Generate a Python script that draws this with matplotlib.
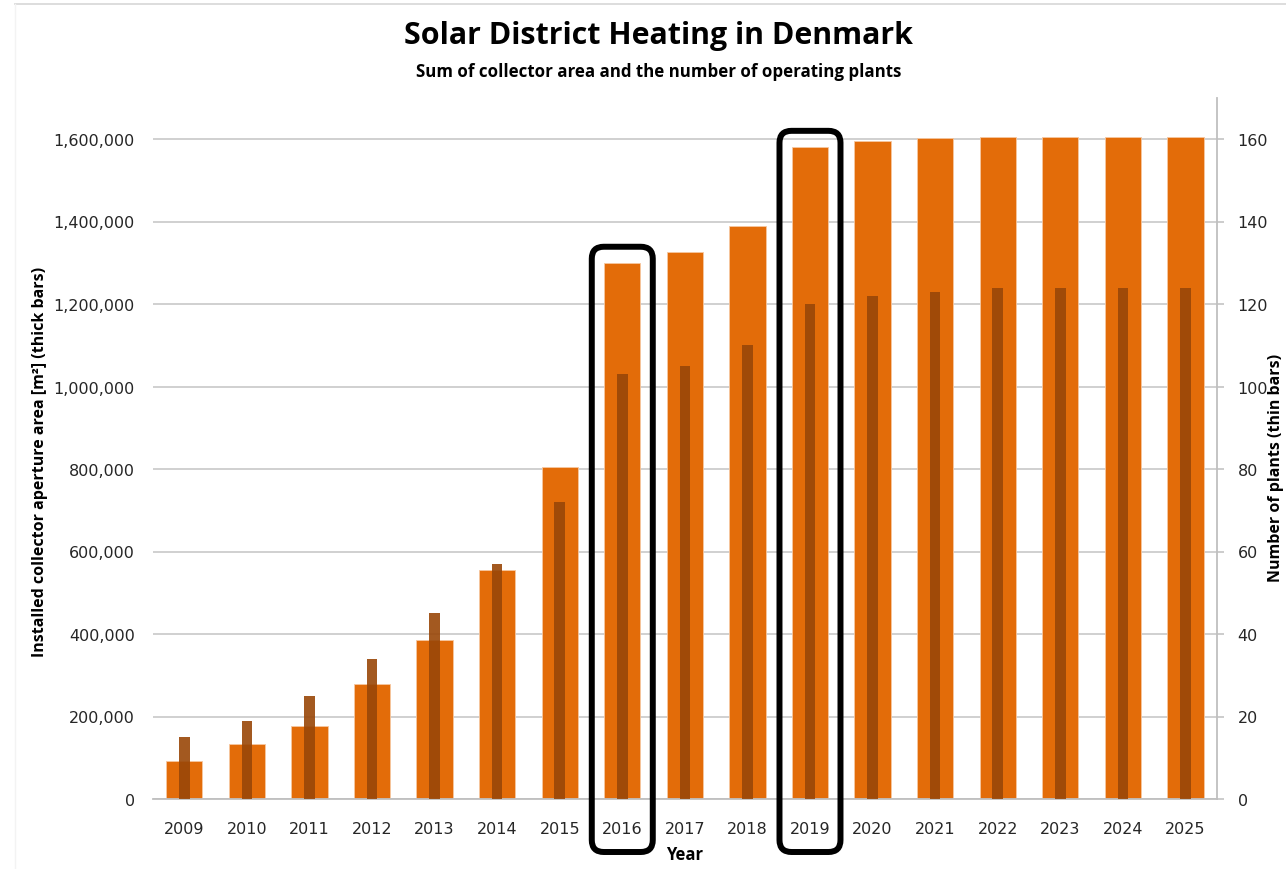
import matplotlib
matplotlib.use("Agg")
import matplotlib.pyplot as plt
from matplotlib.patches import FancyBboxPatch
from matplotlib.transforms import IdentityTransform
from matplotlib.lines import Line2D
from matplotlib.ticker import FuncFormatter

# ---------------- data ----------------
years = [2009, 2010, 2011, 2012, 2013, 2014, 2015, 2016, 2017,
         2018, 2019, 2020, 2021, 2022, 2023, 2024, 2025]
collector_area_m2 = [92000, 133000, 177000, 279000, 385000, 555000, 805000, 1300000,
                     1326000, 1390000, 1581000, 1594000, 1602000, 1604000, 1604000,
                     1606000, 1606000]
operating_plants = [15, 19, 25, 34, 45, 57, 72, 103, 105, 110, 120, 122, 123, 124,
                    124, 124, 124]
highlight_years = [2016, 2019]
left_ticks = [0, 200000, 400000, 600000, 800000, 1000000, 1200000, 1400000, 1600000]
right_ticks = [0, 20, 40, 60, 80, 100, 120, 140, 160]

title = "Solar District Heating in Denmark"
subtitle = "Sum of collector area and the number of operating plants"
left_label = "Installed collector aperture area [m²] (thick bars)"
right_label = "Number of plants (thin bars)"
x_label = "Year"

# ---------------- style ----------------
W, H, DPI = 1286, 870, 100
THICK_COLOR = "#E36C09"
THIN_COLOR = "#994708"
GRID_COLOR = "#C8C8C8"
AXIS_COLOR = "#BFBFBF"
TEXT_COLOR = "#262626"
HEAD_FONT = "Open Sans"

fig = plt.figure(figsize=(W / DPI, H / DPI), dpi=DPI)
fig.patch.set_facecolor("white")

ax_left, ax_right_px = 153, 1216.7
ax_top_px, ax_bottom_px = 98.75, 800
ax = fig.add_axes([ax_left / W, 1 - ax_bottom_px / H,
                   (ax_right_px - ax_left) / W, (ax_bottom_px - ax_top_px) / H])
ax2 = ax.twinx()

x = list(range(len(years)))
ax.bar(x, collector_area_m2, width=0.58, color=THICK_COLOR,
       edgecolor="#F6C7A0", linewidth=0.6, zorder=2)
ax2.bar(x, operating_plants, width=0.17, color=THIN_COLOR, alpha=0.9,
        linewidth=0, zorder=3)

ax.set_xlim(-0.5, len(years) - 0.5)
ax.set_ylim(0, 1700000)
ax2.set_ylim(0, 170)

ax.set_yticks(left_ticks)
ax.yaxis.set_major_formatter(FuncFormatter(lambda v, p: f"{int(v):,}"))
ax2.set_yticks(right_ticks)

ax.set_xticks(x)
ax.set_xticklabels([str(y) for y in years])

ax.grid(axis="y", color=GRID_COLOR, linewidth=1.2, zorder=0)
ax.set_axisbelow(True)

for a in (ax, ax2):
    for s in ("top", "left"):
        a.spines[s].set_visible(False)
ax.spines["right"].set_visible(False)
ax2.spines["bottom"].set_visible(False)
ax.spines["bottom"].set_color(AXIS_COLOR)
ax.spines["bottom"].set_linewidth(1.3)
ax2.spines["right"].set_color(AXIS_COLOR)
ax2.spines["right"].set_linewidth(1.3)

ax.tick_params(axis="y", length=0, pad=13, labelsize=11.5, labelcolor=TEXT_COLOR)
ax.tick_params(axis="x", length=0, pad=16, labelsize=11.5, labelcolor=TEXT_COLOR)
ax2.tick_params(axis="y", length=5, width=1.1, color=AXIS_COLOR, pad=10,
                labelsize=11.5, labelcolor=TEXT_COLOR)

# ---------------- text ----------------
fig.text(658.5 / W, 1 - 36 / H, title, ha="center", va="center",
         fontsize=21.9, fontweight="bold", family=HEAD_FONT, color="black")
fig.text(659 / W, 1 - 72 / H, subtitle, ha="center", va="center",
         fontsize=12.2, fontweight="bold", family=HEAD_FONT, color="black")
fig.text(40 / W, 1 - 462 / H, left_label, rotation=90, ha="center", va="center",
         fontsize=11.5, fontweight="bold", family=HEAD_FONT, color="black")
fig.text(1268 / W, 1 - 468 / H, right_label, rotation=90, ha="left", va="center",
         fontsize=11.5, fontweight="bold", family=HEAD_FONT, color="black")
fig.text((ax_left + ax_right_px) / 2 / W, 1 - 855 / H, x_label, ha="center",
         va="center", fontsize=12, fontweight="bold", family=HEAD_FONT, color="black")

# ---------------- highlight boxes ----------------
fig.canvas.draw()
for yr in highlight_years:
    i = years.index(yr)
    xc, ytop = ax.transData.transform((i, collector_area_m2[i]))
    _, y0 = ax.transData.transform((i, 0))
    box_w = 61
    top = ytop + 16
    bottom = y0 - 53
    patch = FancyBboxPatch((xc - box_w / 2, bottom), box_w, top - bottom,
                           boxstyle="round,pad=0,rounding_size=12",
                           transform=IdentityTransform(), fill=False,
                           edgecolor="black", linewidth=4.3, clip_on=False,
                           zorder=10)
    fig.add_artist(patch)

# slide border remnants
fig.add_artist(Line2D([15 / W, 1], [1 - 5 / H, 1 - 5 / H], transform=fig.transFigure,
                      color="#DADADA", linewidth=1.3))
fig.add_artist(Line2D([15 / W, 15 / W], [0, 1 - 5 / H], transform=fig.transFigure,
                      color="#F3F3F3", linewidth=1.0))

fig.savefig("out.png", dpi=DPI)
